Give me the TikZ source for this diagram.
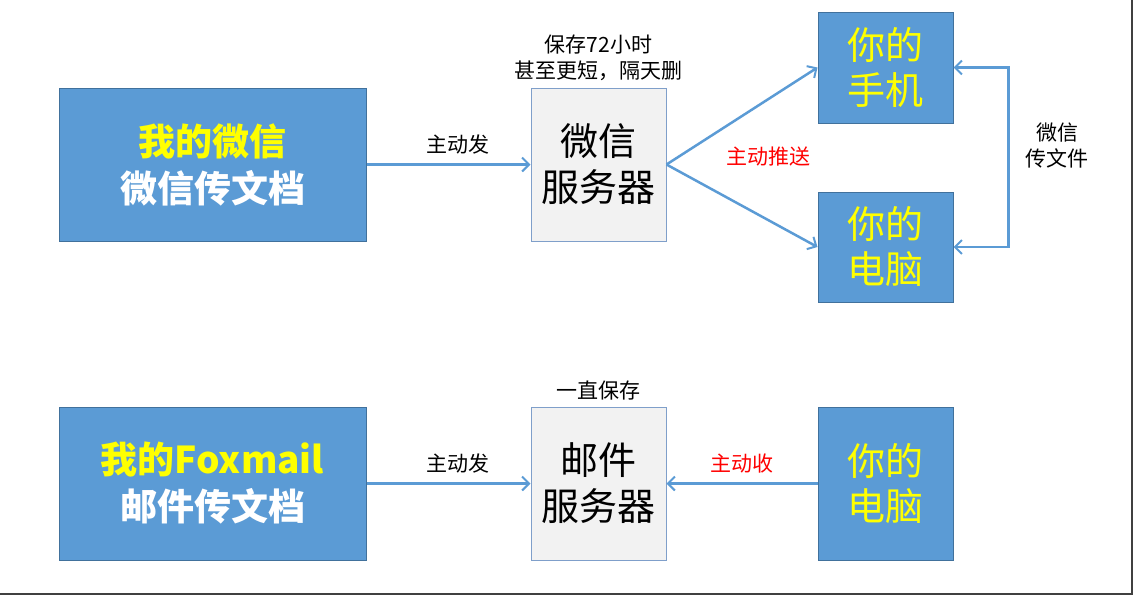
\documentclass[tikz,border=0pt]{standalone}
\usepackage{fontspec}
\setmainfont{Noto Sans CJK SC}
\usetikzlibrary{positioning, arrows.meta}

\definecolor{boxblue}{HTML}{5B9BD5}
\definecolor{boxedge}{HTML}{41719C}
\definecolor{srvfill}{HTML}{F2F2F2}
\definecolor{srvedge}{HTML}{7F9FCA}
\definecolor{capyellow}{HTML}{FFFF00}

\tikzset{
  userbox/.style={draw=boxedge, fill=boxblue, line width=1pt, inner sep=0pt, align=center},
  srvbox/.style={draw=srvedge, fill=srvfill, line width=1pt, inner sep=0pt, align=center,
    minimum width=135, minimum height=153, font=\fontsize{38}{46}\selectfont},
  devbox/.style={userbox, minimum width=135, text=capyellow, font=\fontsize{38}{45}\selectfont},
  flow/.style={draw=boxblue, line width=2.5pt, -{Straight Barb[length=7pt, width=14pt, line width=2pt]}},
  note/.style={font=\fontsize{21}{26}\selectfont, align=center}
}

\begin{document}
\begin{tikzpicture}[x=1pt, y=-1pt]
            \useasboundingbox (0,0) rectangle (1136,598);
            % Frame
            \draw[black!75, line width=2pt] (1132,0) |- (0,594);

            % WeChat row
            \node[userbox, minimum width=307, minimum height=153,
                  font=\fontsize{37}{47}\selectfont\bfseries] (mywx) at (212.5,164.5)
                {\textcolor{capyellow}{我的微信}\\\textcolor{white}{微信传文档}};
            \node[srvbox] (wxsrv) at (598.5,164.5) {微信\\服务器};
            \node[note, above=3pt of wxsrv] (keep) {保存72小时\\甚至更短，隔天删};
            \node[devbox, minimum height=111] (phone) at (885.5,67.5) {你的\\手机};
            \node[devbox, minimum height=110] (pc) at (885.5,247) {你的\\电脑};

            \draw[flow] (mywx) -- node[note, above=6pt, xshift=9pt] {主动发} (wxsrv);
            \draw[flow] (wxsrv.east) -- (phone.west);
            \draw[flow] (wxsrv.east) -- (pc.west);
            \node[note, text=red] (push) at (768,157) {主动推送};

            % Phone <-> PC
            \draw[flow, {Straight Barb[length=7pt, width=14pt, line width=2pt]}-{Straight Barb[length=7pt, width=14pt, line width=2pt]}]
                (phone.east) -- ++(55,0) |- (pc.east);
            \node[note] (sync) at (1057,146) {微信\\传文件};

            % Foxmail row
            \node[userbox, minimum width=307, minimum height=153,
                  font=\fontsize{37}{47}\selectfont\bfseries] (myfox) at (212.5,483.5)
                {\textcolor{capyellow}{我的Foxmail}\\\textcolor{white}{邮件传文档}};
            \node[srvbox] (mailsrv) at (598.5,483.5) {邮件\\服务器};
            \node[note, above=3pt of mailsrv] (forever) {一直保存};
            \node[devbox, minimum height=153] (pc2) at (885.5,483.5) {你的\\电脑};

            \draw[flow] (myfox) -- node[note, above=6pt, xshift=9pt] {主动发} (mailsrv);
            \draw[flow] (pc2) -- node[note, text=red, above=6pt] {主动收} (mailsrv);
        \end{tikzpicture}
\end{document}
